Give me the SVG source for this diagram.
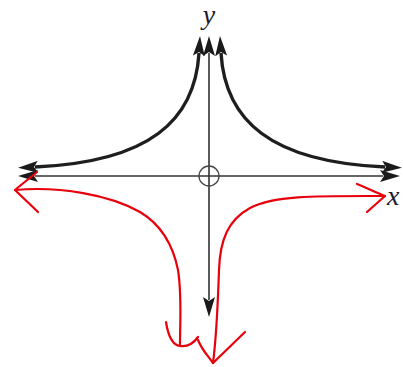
<svg xmlns="http://www.w3.org/2000/svg" width="403" height="367" viewBox="0 0 403 367">
  <defs>
    <marker id="arr" markerUnits="userSpaceOnUse" viewBox="0 0 20 12" refX="3" refY="6" markerWidth="20" markerHeight="12" orient="auto-start-reverse">
      <path d="M0,0 L20,6 L0,12 L4,6 z" fill="#1a1a1a"/>
    </marker>
    <style>
      .axis { fill: none; stroke: #333; stroke-width: 1.6; }
      .curve { fill: none; stroke: #1e1e1e; stroke-width: 3.4; stroke-linecap: butt; }
      .red { fill: none; stroke: #e8000b; stroke-width: 2.2; stroke-linecap: round; stroke-linejoin: round; }
      .lbl { font-family: "Liberation Serif", serif; font-style: italic; font-size: 28px; fill: #1c1c2c; }
    </style>
  </defs>
  <g id="axes">
    <path class="axis" d="M35,176 L383,176" marker-start="url(#arr)" marker-end="url(#arr)"/>
    <path class="axis" d="M209,53 L209,300" marker-start="url(#arr)" marker-end="url(#arr)"/>
    <circle id="origin" cx="209" cy="176" r="10" fill="none" stroke="#444" stroke-width="1.3"/>
  </g>
  <g id="curves">
    <path id="left-branch" class="curve" d="M35,167 C150,162 195,120 199,53" marker-start="url(#arr)" marker-end="url(#arr)"/>
    <path id="right-branch" class="curve" transform="translate(420,0) scale(-1,1)" d="M35,167 C150,162 195,120 199,53" marker-start="url(#arr)" marker-end="url(#arr)"/>
  </g>
  <g id="labels">
    <text class="lbl" x="209" y="24" text-anchor="middle">y</text>
    <text class="lbl" x="387" y="205">x</text>
  </g>
  <g id="red-sketch">
    <path class="red" d="M37,172 C30,178 22,184 15,190 L38,212"/>
    <path class="red" d="M15,190 C60,186 110,195 140,212 C160,224 173,245 178,270 C182,295 180,320 180,345"/>
    <path class="red" d="M166,322 C168,335 172,345 180,346 C187,347 193,344 198,337"/>
    <path class="red" d="M198,340 C202,350 208,356 213,363 L245,332"/>
    <path class="red" d="M213,363 C216,340 218,300 219,270 C220,240 228,220 250,208 C275,195 320,196 385,196"/>
    <path class="red" d="M357,184 C365,187 375,192 385,196 L367,212"/>
  </g>
</svg>
